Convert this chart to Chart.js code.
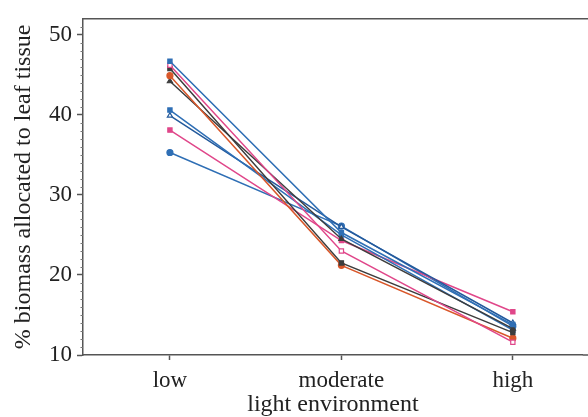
<!DOCTYPE html>
<html><head><meta charset="utf-8">
<script src="https://cdn.jsdelivr.net/npm/chart.js@4/dist/chart.umd.min.js"></script>
<style>html,body{margin:0;padding:0;background:#fff}#wrap{width:588px;height:417px}</style>
</head><body><div id="wrap"><canvas id="c" width="588" height="417"></canvas></div>
<script>
const categories = ['low', 'moderate', 'high'];
const yTicks = [10, 20, 30, 40, 50];
const sA = [46.7, 25.3, 13.8];
const sB = [46.2, 23.0, 11.6];
const sC = [45.8, 21.5, 12.8];
const sD = [44.9, 21.2, 12.1];
const sE = [44.2, 24.5, 13.3];
const sF = [40.6, 25.0, 13.1];
const sG = [39.9, 26.0, 14.0];
const sH = [38.1, 24.3, 15.4];
const sI = [35.3, 26.1, 13.6];

const BLUE = '#2f6fb5', PINK = '#e0478a', ORANGE = '#d9572a', DARK = '#3d3d3d', NAVY = '#245a9c';
const seriesDefs = [
  {v: sA, c: BLUE, s: 'rect', f: BLUE},
  {v: sB, c: PINK, s: 'rect', f: '#fff'},
  {v: sC, c: DARK, s: 'rect', f: DARK},
  {v: sD, c: ORANGE, s: 'circle', f: ORANGE},
  {v: sE, c: DARK, s: 'triangle', f: DARK},
  {v: sF, c: BLUE, s: 'rect', f: BLUE},
  {v: sG, c: NAVY, s: 'triangle', f: '#fff'},
  {v: sH, c: PINK, s: 'rect', f: PINK},
  {v: sI, c: BLUE, s: 'circle', f: BLUE}
];
const datasets = seriesDefs.map(d => ({
  data: d.v.map((y, i) => ({x: i, y})),
  borderColor: d.c, backgroundColor: d.f, pointStyle: d.s,
  pointBorderColor: d.c, pointBackgroundColor: d.f,
  pointRadius: 3, pointBorderWidth: 1.2, borderWidth: 1.5, tension: 0
}));

const FONT = "'Liberation Serif', 'Times New Roman', serif";
const frame = {
  id: 'frame',
  afterDraw(chart) {
    const {ctx, chartArea: a, scales: {y}} = chart;
    ctx.save();
    ctx.strokeStyle = '#555'; ctx.lineWidth = 1.5;
    ctx.beginPath();
    ctx.moveTo(a.left, a.top); ctx.lineTo(chart.width, a.top);
    ctx.moveTo(a.right, a.bottom); ctx.lineTo(chart.width, a.bottom);
    ctx.stroke();
    ctx.lineWidth = 1;
    ctx.strokeStyle = '#777';
    for (let v = 11; v < 52; v++) {
      if (v % 10 === 0) continue;
      const p = Math.round(y.getPixelForValue(v)) + 0.5;
      ctx.beginPath(); ctx.moveTo(a.left - 2.5, p); ctx.lineTo(a.left, p); ctx.stroke();
    }
    ctx.restore();
  }
};

new Chart(document.getElementById('c'), {
  type: 'line',
  data: {datasets},
  plugins: [frame],
  options: {
    responsive: false, animation: false,
    layout: {padding: {left: 0, right: 0, top: 16, bottom: 0}},
    plugins: {legend: {display: false}, tooltip: {enabled: false}},
    scales: {
      x: {
        type: 'linear', min: -0.507, max: 2.408,
        afterBuildTicks: s => { s.ticks = categories.map((_, i) => ({value: i})); },
        afterFit: s => { s.height = 62; },
        ticks: {callback: v => categories[v], color: '#222', font: {family: FONT, size: 23}, padding: 7, maxRotation: 0, autoSkip: false},
        grid: {drawOnChartArea: false, tickLength: 5, color: '#555', tickWidth: 1.5},
        border: {color: '#555', width: 1.5},
        title: {display: true, text: 'light environment', color: '#222', font: {family: FONT, size: 24, lineHeight: 1}, padding: {top: 0, bottom: 0}}
      },
      y: {
        min: 10, max: 52,
        afterBuildTicks: s => { s.ticks = yTicks.map(v => ({value: v})); },
        afterFit: s => { s.width = 83; },
        ticks: {color: '#222', font: {family: FONT, size: 23}, padding: 5},
        grid: {drawOnChartArea: false, tickLength: 6, color: '#555', tickWidth: 1.5},
        border: {color: '#555', width: 1.5},
        title: {display: true, text: '% biomass allocated to leaf tissue', color: '#222', font: {family: FONT, size: 24, lineHeight: 1}, padding: {top: 12, bottom: 0}}
      }
    }
  }
});
</script></body></html>
